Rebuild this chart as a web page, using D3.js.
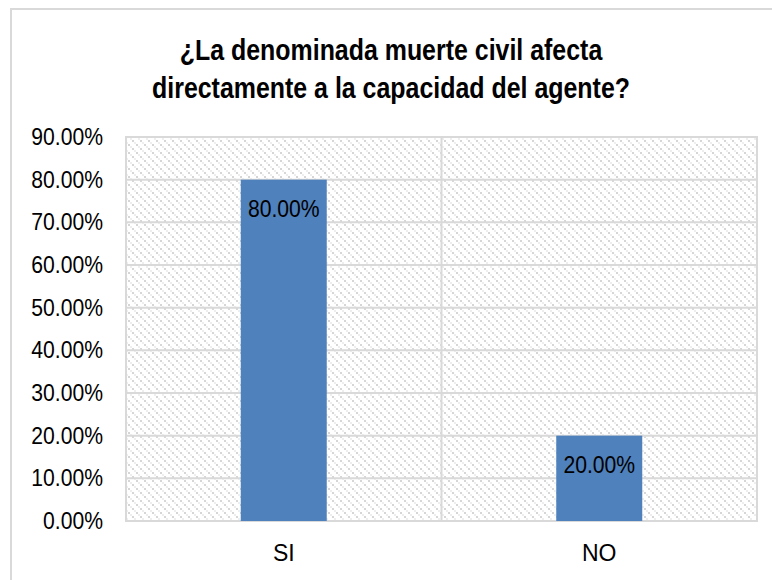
<!DOCTYPE html>
<html>
<head>
<meta charset="utf-8">
<script src="https://cdn.jsdelivr.net/npm/d3@7"></script>
<style>
  body { margin: 0; background: #fff; }
  text { font-family: "Liberation Sans Narrow", "Arial Narrow", "Liberation Sans", sans-serif; }
</style>
</head>
<body>
<div id="chart"></div>
<script>
var categories = ["SI", "NO"];
var values = [0.80, 0.20];
var labels = ["80.00%", "20.00%"];
var yTicks = [0, 0.1, 0.2, 0.3, 0.4, 0.5, 0.6, 0.7, 0.8, 0.9];

var svgWidth = 772;
var svgHeight = 580;

var plot = { left: 126, right: 757, top: 137, bottom: 521 };

var svg = d3.select("#chart")
    .append("svg")
    .attr("width", svgWidth)
    .attr("height", svgHeight);

// hatch pattern for the plot background
var defs = svg.append("defs");
var pat = defs.append("pattern")
    .attr("id", "hatch")
    .attr("patternUnits", "userSpaceOnUse")
    .attr("width", 8)
    .attr("height", 8);
pat.append("rect").attr("width", 8).attr("height", 8).attr("fill", "#fff");
[0, 2, 4, 6].forEach(function(k) {
    pat.append("rect")
        .attr("x", k).attr("y", k)
        .attr("width", 2).attr("height", 2)
        .attr("fill", k % 4 == 0 ? "#d6d6d6" : "#eeeeee");
});

// outer chart border
svg.append("rect")
    .attr("x", 11).attr("y", 9)
    .attr("width", 780).attr("height", 600)
    .attr("fill", "none")
    .attr("stroke", "#d9d9d9")
    .attr("stroke-width", 2);

var xScale = d3.scaleBand()
    .domain(categories)
    .range([plot.left, plot.right])
    .paddingInner(0)
    .paddingOuter(0);

var yScale = d3.scaleLinear()
    .domain([0, 0.9])
    .range([plot.bottom, plot.top]);

svg.append("rect")
    .attr("x", plot.left).attr("y", plot.top)
    .attr("width", plot.right - plot.left)
    .attr("height", plot.bottom - plot.top)
    .attr("fill", "url(#hatch)")
    .attr("stroke", "#d9d9d9")
    .attr("stroke-width", 2);

// horizontal gridlines
svg.append("g")
    .selectAll("line")
    .data(yTicks)
    .enter()
    .append("line")
    .attr("x1", plot.left).attr("x2", plot.right)
    .attr("y1", d => yScale(d)).attr("y2", d => yScale(d))
    .attr("stroke", "#d9d9d9")
    .attr("stroke-width", 2);

// divider between categories
svg.append("line")
    .attr("x1", xScale("NO")).attr("x2", xScale("NO"))
    .attr("y1", plot.top).attr("y2", plot.bottom)
    .attr("stroke", "#d9d9d9")
    .attr("stroke-width", 2);

var barWidth = 86;

svg.append("g")
    .selectAll("rect")
    .data(values)
    .enter()
    .append("rect")
    .attr("x", (d, i) => xScale(categories[i]) + xScale.bandwidth() / 2 - barWidth / 2)
    .attr("y", d => yScale(d))
    .attr("width", barWidth)
    .attr("height", d => plot.bottom - yScale(d))
    .attr("fill", "#4f81bd");

// data labels, slightly condensed like the narrow font in the original
svg.append("g")
    .selectAll("text")
    .data(values)
    .enter()
    .append("text")
    .attr("transform", (d, i) => `translate(${xScale(categories[i]) + xScale.bandwidth() / 2}, ${yScale(d) + 37}) scale(0.92, 1)`)
    .attr("text-anchor", "middle")
    .attr("font-size", 23)
    .attr("fill", "#000")
    .text((d, i) => labels[i]);

// y axis
var yAxis = d3.axisLeft(yScale)
    .tickValues(yTicks)
    .tickFormat(d => (d * 100).toFixed(2) + "%")
    .tickSize(0)
    .tickPadding(0);

var yG = svg.append("g")
    .attr("transform", `translate(${plot.left}, 0)`)
    .call(yAxis);
yG.select(".domain").remove();
yG.selectAll(".tick text")
    .attr("x", null)
    .attr("transform", "translate(-23, 0) scale(0.92, 1)")
    .attr("font-size", 23)
    .attr("fill", "#000")
    .style("font-family", '"Liberation Sans Narrow", "Arial Narrow", sans-serif');

// x axis
var xAxis = d3.axisBottom(xScale).tickSize(0).tickPadding(24);
var xG = svg.append("g")
    .attr("transform", `translate(0, ${plot.bottom})`)
    .call(xAxis);
xG.select(".domain").remove();
xG.selectAll("text")
    .attr("font-size", 23)
    .attr("fill", "#000")
    .style("font-family", '"Liberation Sans Narrow", "Arial Narrow", sans-serif');

// title
var title = svg.append("text")
    .attr("transform", "translate(391, 0) scale(0.86, 1)")
    .attr("text-anchor", "middle")
    .attr("font-size", 29)
    .attr("font-weight", "bold")
    .attr("fill", "#000");
title.append("tspan").attr("x", 0).attr("y", 60).text("¿La denominada muerte civil afecta");
title.append("tspan").attr("x", 0).attr("y", 98).text("directamente a la capacidad del agente?");
</script>
</body>
</html>
